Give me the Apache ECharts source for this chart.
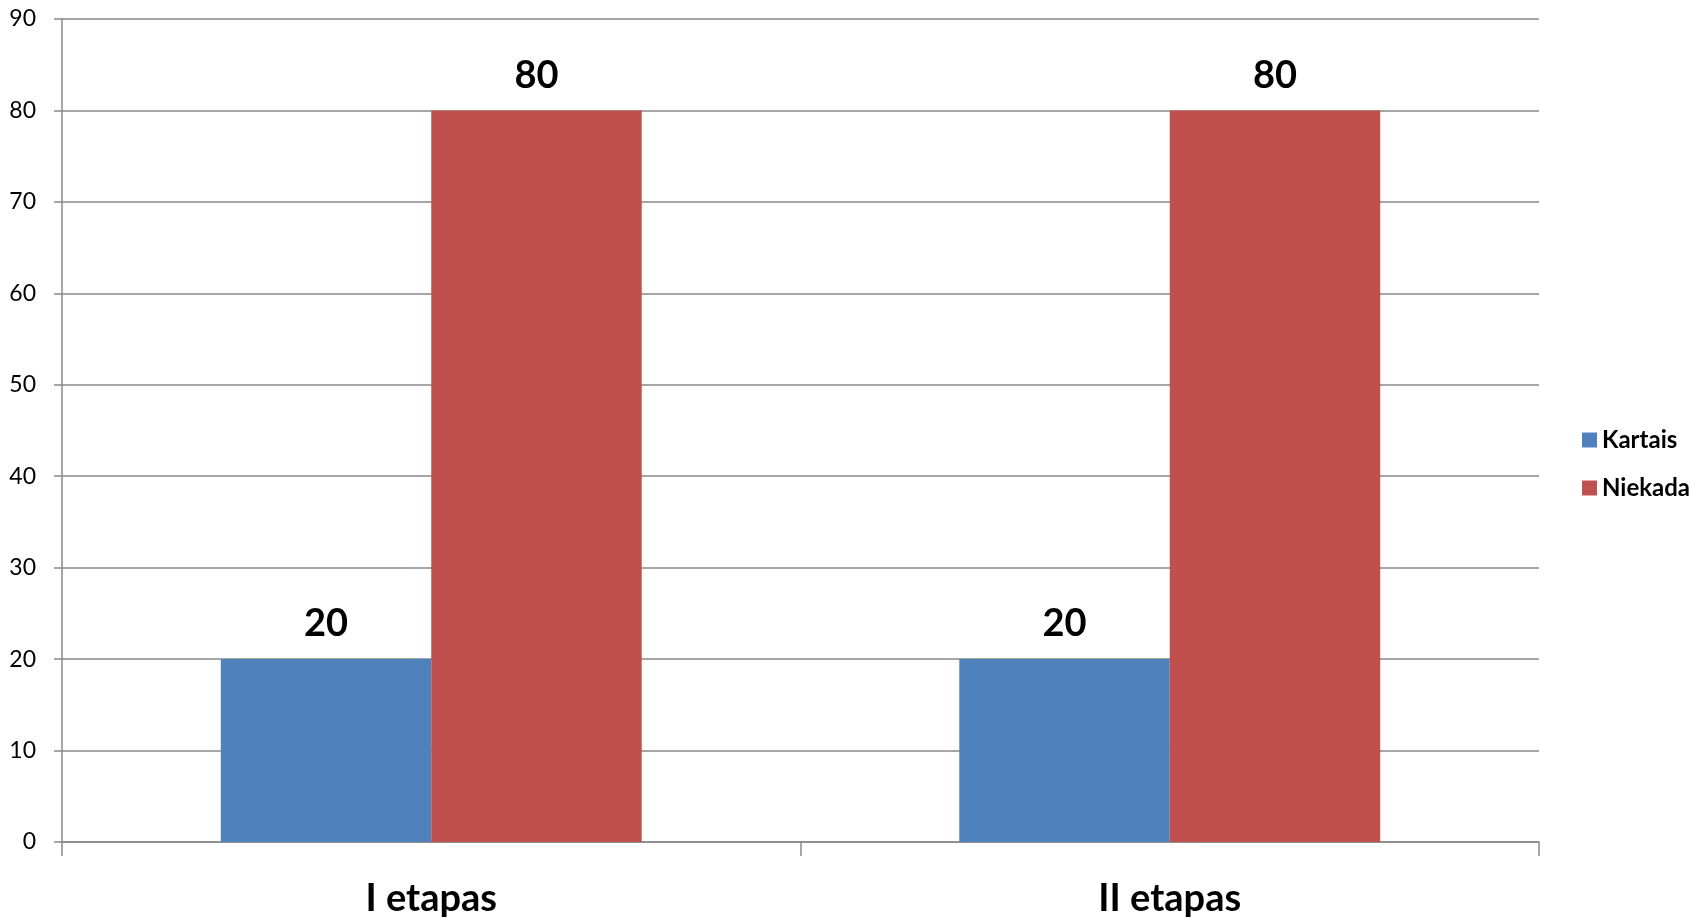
<!DOCTYPE html>
<html>
<head>
<meta charset="utf-8">
<script src="https://cdn.jsdelivr.net/npm/echarts@6/dist/echarts.min.js"></script>
<style>html,body{margin:0;padding:0;background:#fff;}#c{width:1707px;height:920px;}</style>
</head>
<body>
<div id="c"></div>
<script>
const categories = ['I etapas', 'II etapas'];
const seriesNames = ['Kartais', 'Niekada'];
const kartais = [20, 20];
const niekada = [80, 80];
const yTicks = { min: 0, max: 90, interval: 10 };

const chart = echarts.init(document.getElementById('c'));
const font = 'Lato, "Open Sans", sans-serif';
const gray = '#898989';
chart.setOption({
  animation: false,
  backgroundColor: '#ffffff',
  grid: { left: 62, right: 168, top: 19, bottom: 78, containLabel: false },
  legend: {
    orient: 'vertical', left: 1577, top: 423,
    itemWidth: 15, itemHeight: 15, itemGap: 24,
    icon: 'rect',
    textStyle: { fontFamily: font, fontWeight: 'bold', fontSize: 24, color: '#000' },
    data: seriesNames
  },
  xAxis: {
    type: 'category', data: categories,
    axisLine: { lineStyle: { color: gray, width: 1.5 } },
    axisTick: { show: true, length: 14, lineStyle: { color: gray, width: 1.5 } },
    axisLabel: { margin: 38, fontFamily: font, fontWeight: 'bold', fontSize: 38, color: '#000' }
  },
  yAxis: {
    type: 'value', min: yTicks.min, max: yTicks.max, interval: yTicks.interval,
    axisLine: { show: true, lineStyle: { color: gray, width: 1.5 } },
    axisTick: { show: true, length: 8, lineStyle: { color: gray, width: 1.5 } },
    splitLine: { lineStyle: { color: gray, width: 1.5 } },
    axisLabel: { margin: 26, fontFamily: font, fontSize: 23, color: '#000' }
  },
  series: [
    { name: seriesNames[0], type: 'bar', data: kartais, barGap: '0%', barCategoryGap: '43%',
      itemStyle: { color: '#4F81BD' },
      label: { show: true, position: 'top', distance: 16, fontFamily: font, fontWeight: 'bold', fontSize: 38, color: '#000' } },
    { name: seriesNames[1], type: 'bar', data: niekada, barGap: '0%', barCategoryGap: '43%',
      itemStyle: { color: '#C0504D' },
      label: { show: true, position: 'top', distance: 16, fontFamily: font, fontWeight: 'bold', fontSize: 38, color: '#000' } }
  ]
});
</script>
</body>
</html>
